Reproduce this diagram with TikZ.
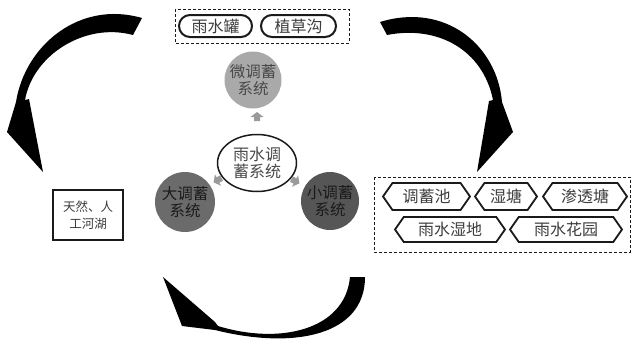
\documentclass[tikz,border=0pt]{standalone}
\usepackage{fontspec}
\newfontfamily\cjk{Noto Sans CJK SC}
\usetikzlibrary{shapes.misc,shapes.symbols,shapes.geometric}
\definecolor{microgray}{HTML}{A9A9A9}
\definecolor{biggray}{HTML}{6B6B6B}
\definecolor{smallgray}{HTML}{565656}
\definecolor{arrgray}{HTML}{9A9A9A}
\definecolor{ink}{HTML}{1A1A1A}
\tikzset{
  pill/.style={draw=ink, line width=2pt, rounded rectangle, minimum height=22pt, inner sep=0pt, font=\cjk\fontsize{16}{18}\selectfont, text=ink!85},
  hexa/.style={draw=ink, line width=1.8pt, shape=signal, signal to=west and east, signal pointer angle=110, inner sep=0pt, font=\cjk\fontsize{16}{18}\selectfont, text=ink!85},
  dashbox/.style={draw=ink, dashed, dash pattern=on 3pt off 2pt, line width=1pt},
  sysdisk/.style={circle, inner sep=0pt, align=center, font=\cjk\fontsize{15.5}{17}\selectfont},
  swoosh/.style={fill=black, draw=none},
  minarrow/.style={fill=arrgray, draw=none}
}
\begin{document}
\begin{tikzpicture}[x=1pt,y=-1pt]
\useasboundingbox (0,0) rectangle (636,341);
% top dashed group
\draw[dashbox] (175,9) rectangle (349,43);
\node[pill, minimum width=73pt] (p1) at (215.5,26) {雨水罐};
\node[pill, minimum width=75pt] (p2) at (298.5,26) {植草沟};
% hex dashed group
\draw[dashbox] (374,177) rectangle (630,252);
\node[hexa, minimum width=87pt, minimum height=27pt] (h1) at (426.5,196.5) {调蓄池};
\node[hexa, minimum width=62pt, minimum height=27pt] (h2) at (506,196.5) {湿塘};
\node[hexa, minimum width=84pt, minimum height=27pt] (h3) at (585,196.5) {渗透塘};
\node[hexa, minimum width=110pt, minimum height=25pt] (h4) at (450,229.5) {雨水湿地};
\node[hexa, minimum width=112pt, minimum height=25pt] (h5) at (566,229.5) {雨水花园};
% circles
\node[sysdisk, fill=microgray, minimum size=57pt, text=ink!80] (micro) at (253,80) {微调蓄\\系统};
\node[ellipse, draw=ink, line width=1.5pt, minimum width=79pt, minimum height=57pt, inner sep=0pt, align=center, font=\cjk\fontsize{16}{17}\selectfont, text=ink!80] (rain) at (257,163) {雨水调\\蓄系统};
\node[sysdisk, fill=biggray, minimum size=60pt, text=ink] (big) at (185,202) {大调蓄\\系统};
\node[sysdisk, fill=smallgray, minimum size=58pt, text=ink] (small) at (330,201) {小调蓄\\系统};
% river box
\node[draw=ink, line width=1.3pt, minimum width=70pt, minimum height=50pt, inner sep=0pt, align=center, font=\cjk\fontsize{12.5}{17}\selectfont, text=ink!85] (river) at (88,215) {天然、人\\工河湖};
% small gray block arrows
\begin{scope}[shift={(257,117)}, rotate=90]
  \fill[minarrow] (-4,-3) -- (0,-3) -- (0,-6.5) -- (5,0) -- (0,6.5) -- (0,3) -- (-4,3) -- cycle;
\end{scope}
\begin{scope}[shift={(218,180)}, rotate=208]
  \fill[minarrow] (-4,-3) -- (0,-3) -- (0,-6.5) -- (5,0) -- (0,6.5) -- (0,3) -- (-4,3) -- cycle;
\end{scope}
\begin{scope}[shift={(295,181)}, rotate=-28]
  \fill[minarrow] (-4,-3) -- (0,-3) -- (0,-6.5) -- (5,0) -- (0,6.5) -- (0,3) -- (-4,3) -- cycle;
\end{scope}
% swoosh arrows
\fill[swoosh] (142,18) .. controls (80,0) and (25,45) .. (16,102)
  -- (7,132) -- (43,172) -- (29,99) -- (25,100)
  .. controls (33,55) and (85,22) .. (133,35) -- cycle;
\fill[swoosh] (380,22) .. controls (445,2) and (497,45) .. (502,102)
  -- (513,132) -- (477,172) -- (489,101) -- (493,100)
  .. controls (483,50) and (438,25) .. (387,35) -- cycle;
\fill[swoosh] (365,277) .. controls (365,335) and (295,350) .. (215,330)
  -- (182,326) -- (163,277) -- (215,322) -- (218,326)
  .. controls (280,345) and (345,330) .. (350,277) -- cycle;
\end{tikzpicture}
\end{document}
